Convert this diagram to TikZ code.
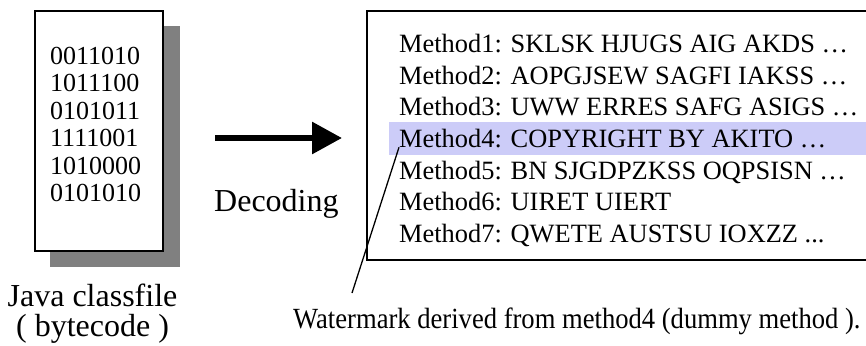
\documentclass[tikz,border=0pt]{standalone}
\usepackage{fontspec}
\setmainfont{Liberation Serif}
\usetikzlibrary{arrows.meta}

\definecolor{shadowgray}{RGB}{128,128,128}
\definecolor{marklavender}{RGB}{204,204,248}

\tikzset{
  frame/.style={draw=black, line width=1.8pt},
  bits/.style={anchor=base west, inner sep=0pt, font=\fontsize{26}{28}\selectfont},
  methodline/.style={anchor=base west, inner sep=0pt, font=\fontsize{26.4}{30}\selectfont},
  bigtext/.style={inner sep=0pt, font=\fontsize{32}{34}\selectfont},
  bodytext/.style={anchor=base west, inner sep=0pt, font=\fontsize{26.6}{30}\selectfont},
  leader/.style={draw=black, line width=1.3pt},
  bigarrow/.style={draw=black, line width=6pt, -{Triangle[length=30pt, width=31pt]}}
}

\begin{document}
\begin{tikzpicture}[x=1pt, y=-1pt]
  \useasboundingbox (0,0) rectangle (866,345);

  % class file sheet with its drop shadow
  \fill[shadowgray] (50,26) rectangle (180,267);
  \draw[frame, fill=white] (35,11) rectangle (163,251);

  \node[bits] (b1) at (50,64)    {0011010};
  \node[bits] (b2) at (50,91.5)  {1011100};
  \node[bits] (b3) at (50,119)   {0101011};
  \node[bits] (b4) at (50,146.5) {1111001};
  \node[bits] (b5) at (50,174)   {1010000};
  \node[bits] (b6) at (50,201.5) {0101010};

  \node[bigtext, anchor=base] (cap1) at (92.5,306) {Java classfile};
  \node[bigtext, anchor=base] (cap2) at (92.5,336.5) {( bytecode )};

  % decoding step
  \coordinate (arrowtail) at (215,138);
  \coordinate (arrowtip) at (342,138);
  \draw[bigarrow] (arrowtail) -- (arrowtip);
  \node[bigtext, anchor=base west] (decoding) at (214,211) {Decoding};

  % decoded method table
  \fill[marklavender] (389,122) rectangle (880,154.5);
  \draw[frame] (880,11) -- (367,11) -- (367,260) -- (880,260);

  \node[methodline] (m1) at (399,52.5)  {Method1: SKLSK HJUGS AIG AKDS …};
  \node[methodline] (m2) at (399,84)    {Method2: AOPGJSEW SAGFI IAKSS …};
  \node[methodline] (m3) at (399,115.7) {Method3: UWW ERRES SAFG ASIGS …};
  \node[methodline] (m4) at (399,147.3) {Method4: COPYRIGHT BY AKITO …};
  \node[methodline] (m5) at (399,179)   {Method5: BN SJGDPZKSS OQPSISN …};
  \node[methodline] (m6) at (399,210.5) {Method6: UIRET UIERT};
  \node[methodline] (m7) at (399,242)   {Method7: QWETE AUSTSU IOXZZ ...};

  % watermark annotation
  \coordinate (leaderend) at (352,293);
  \draw[leader] (m4.base west) -- (leaderend);
  \node[bodytext] (wm) at (293,328) {\scalebox{1}[1.1]{Watermark derived from method4 (dummy method ).}};
\end{tikzpicture}
\end{document}
